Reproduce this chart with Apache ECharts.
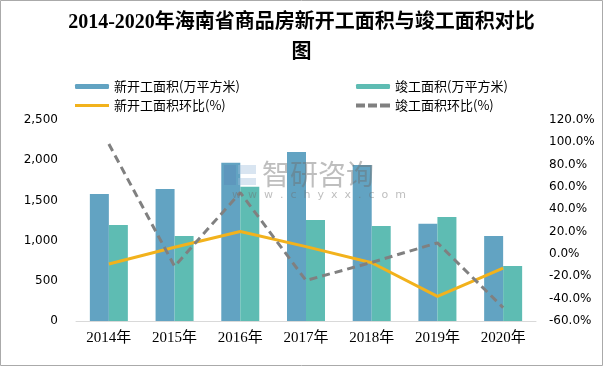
<!DOCTYPE html>
<html><head><meta charset="utf-8">
<script src="https://cdn.jsdelivr.net/npm/echarts@6/dist/echarts.min.js"></script>
<style>html,body{margin:0;padding:0;background:#fff}#c{width:603px;height:366px}</style>
</head><body><div id="c"></div>
<script>
const categories = ['2014年','2015年','2016年','2017年','2018年','2019年','2020年'];
const newStart = [1580, 1642, 1968, 2102, 1940, 1209, 1057];
const completed = [1194, 1057, 1669, 1256, 1182, 1294, 684];
const newStartRate = [-9, 6, 20.2, 6.6, -7.8, -38, -12.6];
const completedRate = [98.5, -11, 55, -23.7, -7.5, 10, -48];
const leftTicks = {min: 0, max: 2500, interval: 500};
const rightTicks = {min: -60, max: 120, interval: 20};

const chart = echarts.init(document.getElementById('c'));
const cjk = '"Noto Sans CJK SC", sans-serif';
const legText = {fontFamily: cjk, fontSize: 13, color: '#000'};
chart.setOption({
  backgroundColor: '#fff',
  animation: false,
  title: {
    text: '2014-2020年海南省商品房新开工面积与竣工面积对比\n图',
    left: 'center', top: 3,
    textStyle: {fontFamily: '"Liberation Serif", "Noto Sans CJK SC", serif', fontSize: 20, fontWeight: 'bold', color: '#000', lineHeight: 30}
  },
  graphic: [
    {type: 'rect', shape: {x: 0.5, y: 0.5, width: 602, height: 365}, style: {fill: 'none', stroke: '#aaa', lineWidth: 1}, silent: true, z: 100},
    {type: 'text', left: 262, top: 160, style: {text: '智研咨询', font: '28px "Noto Sans CJK SC"', fill: 'rgba(110,110,110,0.45)'}, z: 50},
    {type: 'text', left: 232, top: 190, style: {text: 'w  w  w  .  c  h  y  x  x  .  c  o  m', font: '11px "DejaVu Sans"', fill: 'rgba(110,110,110,0.45)'}, z: 50},
    {type: 'rect', shape: {x: 224, y: 165, width: 12, height: 20}, style: {fill: 'rgba(90,130,180,0.35)'}, z: 50},
    {type: 'rect', shape: {x: 238, y: 165, width: 18, height: 9}, style: {fill: 'rgba(160,190,220,0.4)'}, z: 50},
    {type: 'rect', shape: {x: 238, y: 178, width: 18, height: 7}, style: {fill: 'rgba(160,190,220,0.4)'}, z: 50}
  ],
  legend: [
    {left: 70, top: 75, itemWidth: 34, itemHeight: 5, itemGap: 4, data: [{name: '新开工面积(万平方米)'}], textStyle: legText},
    {left: 351, top: 75, itemWidth: 34, itemHeight: 5, data: [{name: '竣工面积(万平方米)'}], textStyle: legText},
    {left: 70, top: 94, itemWidth: 34, itemHeight: 5, data: [{name: '新开工面积环比(%)', icon: 'path://M0,0L34,0L34,3L0,3Z'}], textStyle: legText},
    {left: 351, top: 94, itemWidth: 34, itemHeight: 5, data: [{name: '竣工面积环比(%)', icon: 'path://M0,0L9,0L9,4L0,4ZM12,0L21,0L21,4L12,4ZM24,0L34,0L34,4L24,4Z'}], textStyle: legText}
  ],
  grid: {left: 76, right: 67, top: 120, bottom: 45},
  xAxis: {
    type: 'category', data: categories, boundaryGap: true,
    axisLine: {lineStyle: {color: '#d9d9d9', width: 1}}, axisTick: {show: false},
    axisLabel: {color: '#000', fontSize: 15, fontFamily: '"Liberation Serif", "Noto Sans CJK SC", serif', margin: 10}
  },
  yAxis: [
    {type: 'value', min: leftTicks.min, max: leftTicks.max, interval: leftTicks.interval,
     splitLine: {show: false}, axisLine: {show: false}, axisTick: {show: false},
     axisLabel: {color: '#000', fontSize: 12, fontFamily: '"DejaVu Sans", sans-serif', margin: 18,
       formatter: v => v.toLocaleString('en-US')}},
    {type: 'value', min: rightTicks.min, max: rightTicks.max, interval: rightTicks.interval,
     splitLine: {show: false}, axisLine: {show: false}, axisTick: {show: false},
     axisLabel: {color: '#000', fontSize: 12, fontFamily: '"DejaVu Sans", sans-serif', margin: 13,
       formatter: v => v.toFixed(1) + '%'}}
  ],
  series: [
    {name: '新开工面积(万平方米)', type: 'bar', data: newStart, barWidth: 19, barGap: '0%', itemStyle: {color: '#62a3c2'}, z: 1},
    {name: '竣工面积(万平方米)', type: 'bar', data: completed, barWidth: 19, barGap: '0%', itemStyle: {color: '#5ebcb3'}, z: 1},
    {name: '新开工面积环比(%)', type: 'line', yAxisIndex: 1, data: newStartRate, symbol: 'none',
     lineStyle: {color: '#f2b21c', width: 3}, itemStyle: {color: '#f2b21c'}, z: 3},
    {name: '竣工面积环比(%)', type: 'line', yAxisIndex: 1, data: completedRate, symbol: 'none',
     lineStyle: {color: '#808080', width: 3, type: [8, 5]}, itemStyle: {color: '#808080'}, z: 4}
  ]
});
</script></body></html>
